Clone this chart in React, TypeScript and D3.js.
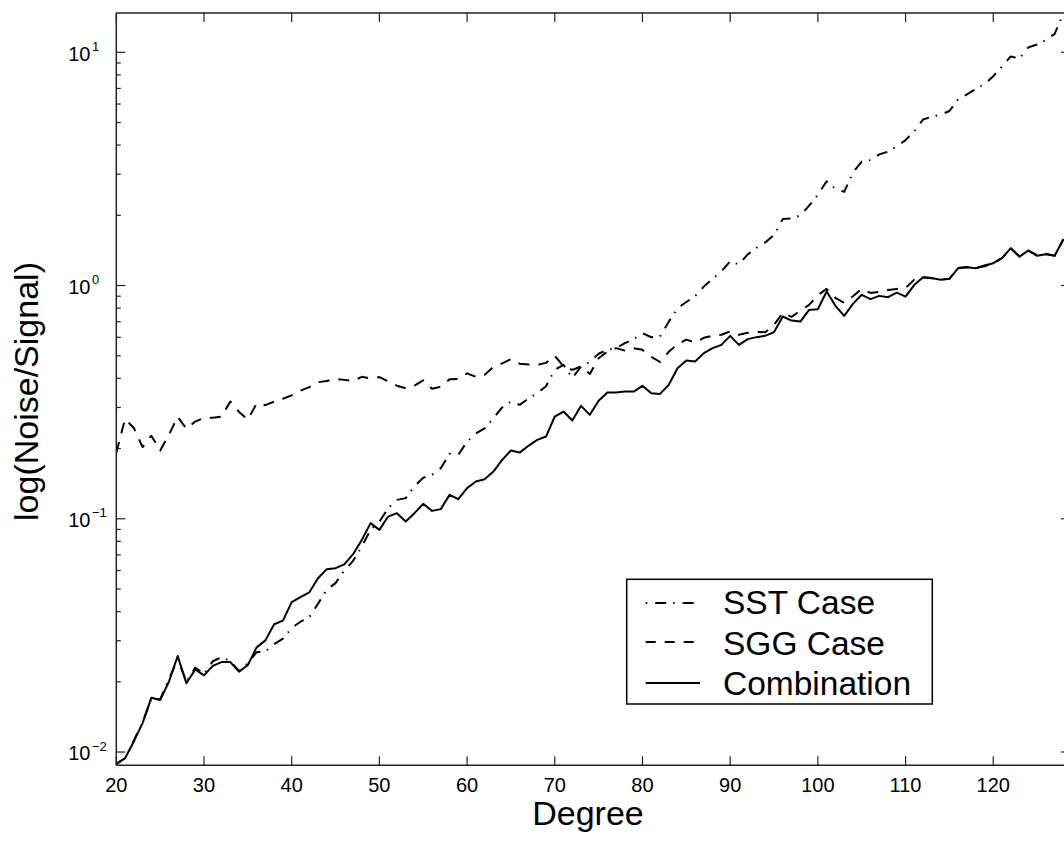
import React from "react";
import * as d3 from "d3";

const degrees: number[] = d3.range(20, 129);

const sstCase: number[] = [
  0.0089, 0.0094, 0.0112, 0.0134, 0.0170, 0.0168, 0.0205, 0.0250, 0.0200, 0.0230,
  0.0216, 0.0245, 0.0255, 0.0246, 0.0222, 0.0240, 0.0268, 0.0270, 0.0290, 0.0306,
  0.0340, 0.0362, 0.0378, 0.0432, 0.0497, 0.0530, 0.0600, 0.0660, 0.0760, 0.0900,
  0.0970, 0.1110, 0.1205, 0.1226, 0.1380, 0.1500, 0.1543, 0.1648, 0.1900, 0.1880,
  0.2143, 0.2320, 0.2440, 0.2700, 0.3000, 0.3180, 0.3080, 0.3280, 0.3455, 0.3700,
  0.4350, 0.4570, 0.4010, 0.4500, 0.4700, 0.5100, 0.5300, 0.5390, 0.5660, 0.5890,
  0.6250, 0.6000, 0.6050, 0.7000, 0.8000, 0.8500, 0.9000, 0.9900, 1.0700, 1.1500,
  1.2700, 1.2300, 1.3600, 1.4500, 1.5300, 1.6500, 1.9300, 1.9400, 2.0000, 2.2000,
  2.4500, 2.8000, 2.6000, 2.5200, 3.0500, 3.4000, 3.4500, 3.6500, 3.7500, 3.9500,
  4.2000, 4.6000, 5.1500, 5.3000, 5.4000, 5.6000, 6.3000, 6.6000, 6.9500, 7.3000,
  7.9000, 8.7000, 9.6000, 9.4000, 10.500, 10.800, 11.300, 12.000, 14.700,
];

const sggCase: number[] = [
  0.192, 0.268, 0.245, 0.203, 0.227, 0.196, 0.229, 0.274, 0.243, 0.261,
  0.271, 0.271, 0.274, 0.318, 0.287, 0.266, 0.312, 0.307, 0.318, 0.327,
  0.338, 0.354, 0.367, 0.385, 0.390, 0.398, 0.394, 0.390, 0.406, 0.400,
  0.405, 0.388, 0.372, 0.363, 0.372, 0.392, 0.361, 0.368, 0.396, 0.398,
  0.420, 0.406, 0.414, 0.448, 0.464, 0.483, 0.462, 0.459, 0.457, 0.466,
  0.500, 0.450, 0.435, 0.450, 0.418, 0.488, 0.521, 0.539, 0.526, 0.538,
  0.530, 0.495, 0.470, 0.520, 0.560, 0.586, 0.570, 0.597, 0.609, 0.615,
  0.636, 0.615, 0.627, 0.633, 0.631, 0.678, 0.764, 0.734, 0.780, 0.826,
  0.910, 0.967, 0.886, 0.843, 0.900, 0.967, 0.930, 0.940, 0.957, 0.967,
  0.977, 1.060, 1.085, 1.075, 1.060, 1.070, 1.190, 1.200, 1.190, 1.210,
  1.250, 1.310, 1.440, 1.330, 1.410, 1.350, 1.370, 1.340, 1.580,
];

const combination: number[] = [
  0.0089, 0.0094, 0.0111, 0.0133, 0.0171, 0.0167, 0.0200, 0.0258, 0.0197, 0.0226,
  0.0213, 0.0234, 0.0243, 0.0243, 0.0221, 0.0236, 0.0281, 0.0301, 0.0353, 0.0366,
  0.0439, 0.0461, 0.0483, 0.0556, 0.0608, 0.0614, 0.0638, 0.0705, 0.0812, 0.0958,
  0.0896, 0.1022, 0.1057, 0.0973, 0.1057, 0.1159, 0.1081, 0.1100, 0.1266, 0.1214,
  0.1353, 0.1444, 0.1478, 0.1594, 0.1789, 0.1961, 0.1922, 0.2055, 0.2180, 0.2252,
  0.2744, 0.2883, 0.2637, 0.3049, 0.2790, 0.3204, 0.3476, 0.3476, 0.3511, 0.3511,
  0.3715, 0.3455, 0.3431, 0.3752, 0.4422, 0.4770, 0.4723, 0.5131, 0.5390, 0.5567,
  0.6085, 0.5567, 0.5891, 0.6008, 0.6085, 0.6313, 0.7364, 0.7078, 0.7009, 0.7864,
  0.7919, 0.9426, 0.8185, 0.7415, 0.8347, 0.9124, 0.8740, 0.9030, 0.8910, 0.9330,
  0.8970, 1.0070, 1.0860, 1.0760, 1.0580, 1.0680, 1.1870, 1.1990, 1.1870, 1.2180,
  1.2470, 1.3110, 1.4470, 1.3310, 1.4130, 1.3410, 1.3630, 1.3410, 1.5810,
];

const xTicks: number[] = [20, 30, 40, 50, 60, 70, 80, 90, 100, 110, 120];
const yExponents: number[] = [-2, -1, 0, 1];
const seriesNames: string[] = ["SST Case", "SGG Case", "Combination"];

const FONT = "'Liberation Sans', Arial, Helvetica, sans-serif";

export default function App() {
  const left = 116.3;
  const right = 1070;
  const top = 13;
  const bottom = 765.3;

  const x = d3.scaleLinear().domain([20, 128.75]).range([left, right]);
  const y = d3.scaleLog().domain([0.00877, 14.74]).range([bottom, top]);

  const line = d3
    .line<number>()
    .x((_, i) => x(degrees[i]))
    .y((v) => y(v));

  const dashes = ["11,7,1.5,8", "11,9", ""];
  const legendDashes = ["11,7,1.5,8", "10,9", ""];
  const legendOffsets = [18, 0, 0];
  const series = [sstCase, sggCase, combination];

  const [y0, y1] = y.domain();
  const minor: number[] = [];
  for (let e = -3; e <= 1; e++) {
    for (let m = 2; m <= 9; m++) {
      const v = m * Math.pow(10, e);
      if (v >= y0 && v <= y1) minor.push(v);
    }
  }

  const axisColor = "#222";
  const majorLen = 9;
  const minorLen = 4.5;

  const legX = 626.7;
  const legY = 579.3;
  const legW = 305.6;
  const legH = 124.7;
  const lineY = [603, 642, 683];
  const textY = [614, 655, 695];

  return (
    <svg
      width={1064}
      height={847}
      style={{ position: "absolute", left: 0, top: 0, background: "#fff" }}
      fontFamily={FONT}
    >
      <rect x={0} y={0} width={1064} height={847} fill="#fff" />
      <defs>
        <clipPath id="plotClip">
          <rect x={left} y={top} width={right - left} height={bottom - top} />
        </clipPath>
      </defs>

      {/* data */}
      <g clipPath="url(#plotClip)">
        {series.map((s, k) => (
          <path
            key={k}
            d={line(s) || ""}
            fill="none"
            stroke="#000"
            strokeWidth={2}
            strokeDasharray={dashes[k] || undefined}
            strokeLinejoin="round"
          />
        ))}
      </g>

      {/* axes box */}
      <g stroke={axisColor} strokeWidth={1.5} fill="none">
        <line x1={left} y1={top} x2={right} y2={top} />
        <line x1={left} y1={bottom} x2={right} y2={bottom} />
        <line x1={left} y1={top} x2={left} y2={bottom} />
        <line x1={right} y1={top} x2={right} y2={bottom} />
      </g>

      {/* x ticks */}
      <g stroke={axisColor} strokeWidth={1.2}>
        {xTicks.map((t) => (
          <g key={t}>
            <line x1={x(t)} x2={x(t)} y1={bottom} y2={bottom - majorLen} />
            <line x1={x(t)} x2={x(t)} y1={top} y2={top + majorLen} />
          </g>
        ))}
      </g>
      <g fontSize={20} textAnchor="middle" fill="#000">
        {xTicks.map((t) => (
          <text key={t} x={x(t)} y={791.5}>
            {t}
          </text>
        ))}
      </g>

      {/* y ticks */}
      <g stroke={axisColor} strokeWidth={1.2}>
        {yExponents.map((e) => {
          const yy = y(Math.pow(10, e));
          return (
            <g key={e}>
              <line x1={left} x2={left + majorLen} y1={yy} y2={yy} />
              <line x1={right} x2={right - majorLen} y1={yy} y2={yy} />
            </g>
          );
        })}
        {minor.map((v, i) => {
          const yy = y(v);
          return (
            <g key={i}>
              <line x1={left} x2={left + minorLen} y1={yy} y2={yy} />
              <line x1={right} x2={right - minorLen} y1={yy} y2={yy} />
            </g>
          );
        })}
      </g>
      <g fill="#000">
        {yExponents.map((e) => {
          const yy = y(Math.pow(10, e));
          return (
            <g key={e}>
              <text x={90.5} y={yy + 8.4} fontSize={20} textAnchor="end">
                10
              </text>
              <text x={92} y={yy - 1.5} fontSize={13} textAnchor="start">
                {e < 0 ? "\u2212" + Math.abs(e) : String(e)}
              </text>
            </g>
          );
        })}
      </g>

      {/* axis labels */}
      <text x={588} y={825} fontSize={34} textAnchor="middle" fill="#000">
        Degree
      </text>
      <text
        transform={`translate(38, 391.5) rotate(-90)`}
        fontSize={34}
        textAnchor="middle"
        fill="#000"
      >
        log(Noise/Signal)
      </text>

      {/* legend */}
      <rect
        x={legX}
        y={legY}
        width={legW}
        height={legH}
        fill="#fff"
        stroke="#000"
        strokeWidth={1.5}
      />
      {seriesNames.map((name, k) => (
        <g key={name}>
          <line
            x1={645.7}
            x2={700}
            y1={lineY[k]}
            y2={lineY[k]}
            stroke="#000"
            strokeWidth={2}
            strokeDasharray={legendDashes[k] || undefined}
            strokeDashoffset={legendOffsets[k]}
          />
          <text x={723} y={textY[k]} fontSize={33.5} fill="#000">
            {name}
          </text>
        </g>
      ))}
    </svg>
  );
}
